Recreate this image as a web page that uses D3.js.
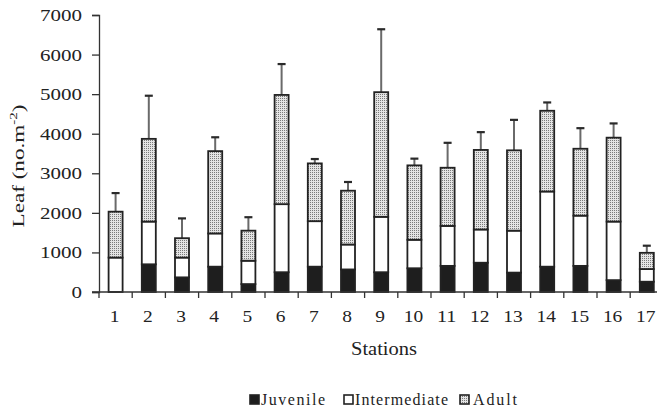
<!DOCTYPE html>
<html>
<head>
<meta charset="utf-8">
<script src="https://cdn.jsdelivr.net/npm/d3@7"></script>
</head>
<body style="margin:0;background:#fff">
<svg id="chart" width="657" height="411"></svg>
<script>
// Leaf-dwelling density per station, split by life stage (no. m^-2)
const stations     = ["1","2","3","4","5","6","7","8","9","10","11","12","13","14","15","16","17"];
const juvenile     = [0, 700, 370, 640, 200, 500, 640, 570, 500, 600, 660, 740, 490, 640, 660, 300, 260];
const intermediate = [870, 1080, 500, 840, 590, 1720, 1150, 630, 1400, 720, 1010, 840, 1060, 1900, 1270, 1480, 320];
const adult        = [1160, 2090, 490, 2080, 760, 2760, 1460, 1360, 3150, 1880, 1470, 2010, 2030, 2040, 1690, 2120, 410];
const totalSD      = [470, 1090, 500, 350, 340, 780, 110, 220, 1590, 170, 630, 450, 770, 210, 520, 360, 180];
const yTicks       = [0, 1000, 2000, 3000, 4000, 5000, 6000, 7000];
const stageNames   = ["Juvenile", "Intermediate", "Adult"];

const SERIF = "Liberation Serif";
const INK = "#222";

const svg = d3.select("#chart");

// dotted fill for the adult segment
const defs = svg.append("defs");
const pat = defs.append("pattern")
  .attr("id", "dots").attr("patternUnits", "userSpaceOnUse")
  .attr("width", 2).attr("height", 2);
pat.append("rect").attr("width", 2).attr("height", 2).attr("fill", "#e4e4e4");
pat.append("rect").attr("width", 1).attr("height", 1).attr("fill", "#7a7a7a");

const fills = ["#1e1e1e", "#ffffff", "url(#dots)"];

const x = d3.scaleBand().domain(stations).range([99, 663.4]).paddingInner(0).paddingOuter(0);
const y = d3.scaleLinear().domain([0, 7000]).range([292, 15]);

const rows = stations.map((s, i) => ({
  station: s, Juvenile: juvenile[i], Intermediate: intermediate[i], Adult: adult[i], sd: totalSD[i]
}));
const series = d3.stack().keys(stageNames)(rows);

const barW = 14;
const cx = s => x(s) + x.bandwidth() / 2;

// error bars (drawn first so the bar outline sits on top)
const err = svg.append("g");
rows.forEach(r => {
  const tot = r.Juvenile + r.Intermediate + r.Adult;
  err.append("line")
    .attr("x1", cx(r.station)).attr("x2", cx(r.station))
    .attr("y1", y(tot)).attr("y2", y(tot + r.sd))
    .attr("stroke", "#6a6a6a").attr("stroke-width", 2);
  err.append("line")
    .attr("x1", cx(r.station) - 4).attr("x2", cx(r.station) + 4)
    .attr("y1", y(tot + r.sd)).attr("y2", y(tot + r.sd))
    .attr("stroke", "#2a2a2a").attr("stroke-width", 2.2);
});

// stacked bars
svg.append("g").selectAll("g").data(series).join("g")
  .attr("fill", (d, i) => fills[i])
  .selectAll("rect").data(d => d).join("rect")
  .attr("x", d => cx(d.data.station) - barW / 2)
  .attr("width", barW)
  .attr("y", d => y(d[1]))
  .attr("height", d => Math.max(0, y(d[0]) - y(d[1])))
  .attr("stroke", "#222").attr("stroke-width", 1.8);

// wide-set serif digits: 16px glyphs stretched to ~10.5px per digit
const digitW = 10.5;

// y axis lines from d3.axisLeft, labels as plain text
const yAxis = svg.append("g").attr("transform", "translate(99,0)")
  .call(d3.axisLeft(y).tickValues(yTicks).tickSize(7).tickFormat(""));
yAxis.select(".domain").attr("stroke", "#333").attr("stroke-width", 1.3);
yAxis.selectAll(".tick line").attr("stroke", "#333").attr("stroke-width", 1.3);
svg.append("g").selectAll("text").data(yTicks).join("text")
  .attr("x", 82).attr("y", d => y(d) + 6)
  .attr("text-anchor", "end")
  .attr("font-family", SERIF).attr("font-size", 16).attr("fill", INK)
  .attr("textLength", d => String(d).length * digitW).attr("lengthAdjust", "spacingAndGlyphs")
  .text(d => d3.format("d")(d));

// x axis: ticks at band edges, labels centred in bands
svg.append("line").attr("x1", 92).attr("x2", 657).attr("y1", 292).attr("y2", 292)
  .attr("stroke", "#333").attr("stroke-width", 1.3);
svg.append("g").selectAll("line").data(stations).join("line")
  .attr("x1", d => x(d)).attr("x2", d => x(d))
  .attr("y1", 292).attr("y2", 298)
  .attr("stroke", "#333").attr("stroke-width", 1.3);
svg.append("g").selectAll("text").data(stations).join("text")
  .attr("x", d => cx(d) - 1).attr("y", 322)
  .attr("text-anchor", "middle")
  .attr("font-family", SERIF).attr("font-size", 16).attr("fill", INK)
  .attr("textLength", d => d.length * 9.7).attr("lengthAdjust", "spacingAndGlyphs")
  .text(d => d);

// axis titles
svg.append("text").attr("x", 384).attr("y", 355).attr("text-anchor", "middle")
  .attr("font-family", SERIF).attr("font-size", 19).attr("fill", INK)
  .attr("textLength", 66).attr("lengthAdjust", "spacingAndGlyphs")
  .text("Stations");
const yt = svg.append("text").attr("transform", "translate(24,166) rotate(-90)")
  .attr("text-anchor", "middle").attr("font-family", SERIF).attr("font-size", 17).attr("fill", INK)
  .attr("textLength", 123).attr("lengthAdjust", "spacingAndGlyphs");
yt.append("tspan").text("Leaf  (no.m");
yt.append("tspan").attr("dy", -7).attr("font-size", 11).text("-2");
yt.append("tspan").attr("dy", 7).text(")");

// legend
const legend = [
  { name: "Juvenile", box: 250, tx: 261, w: 64, fill: fills[0] },
  { name: "Intermediate", box: 344, tx: 355, w: 93, fill: fills[1] },
  { name: "Adult", box: 460, tx: 473, w: 44, fill: fills[2] }
];
const lg = svg.append("g");
legend.forEach(l => {
  lg.append("rect").attr("x", l.box).attr("y", 395).attr("width", 9).attr("height", 9)
    .attr("fill", l.fill).attr("stroke", "#222").attr("stroke-width", 1.6);
  lg.append("text").attr("x", l.tx).attr("y", 405)
    .attr("font-family", SERIF).attr("font-size", 16)
    .attr("textLength", l.w).attr("lengthAdjust", "spacing")
    .attr("fill", INK).text(l.name);
});
</script>
</body>
</html>
